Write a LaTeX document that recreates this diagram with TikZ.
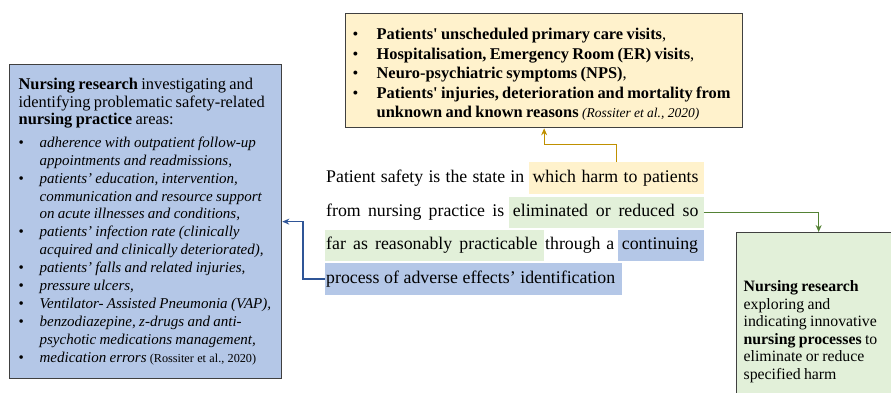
\documentclass[tikz,border=0pt]{standalone}
\usepackage{fontspec}
\setmainfont{Liberation Serif}
\newfontfamily\rawserif{Liberation Serif}
\usepackage{enumitem}
\usetikzlibrary{arrows.meta}

\definecolor{hlyellow}{HTML}{FFF2CC}
\definecolor{hlgreen}{HTML}{E2F0D9}
\definecolor{hlblue}{HTML}{B4C7E7}
\definecolor{argold}{HTML}{BF9000}
\definecolor{argreen}{HTML}{548235}
\definecolor{arblue}{HTML}{2F5597}
\definecolor{boxline}{HTML}{404040}

% one justified stretch of text: left pad, full width, right pad, words
\newcommand{\spreadline}[4]{\hbox to #2pt{\hskip#1pt\spaceskip=0.25em plus 1fill minus 0.08em\relax #4\hfil\hskip#3pt}}
\newcommand{\sq}{{\rawserif'}}
\setlist[itemize]{label={\normalfont\textbullet}, labelindent=0pt, align=left,
  itemsep=0pt, topsep=0pt, parsep=0pt, partopsep=0pt}

\begin{document}
\begin{tikzpicture}[x=1pt, y=-1pt,
  seg/.style={inner xsep=0pt, inner ysep=0pt, minimum height=31.5pt,
    text height=12.5pt, text depth=4pt, anchor=west,
    font=\fontsize{17.8}{21}\selectfont},
  box/.style={draw=boxline, line width=1.3pt, anchor=north west},
  arr/.style={line width=1.2pt, -{Stealth[length=7pt, width=6pt]}}]

\useasboundingbox (0,0) rectangle (891,393);
\clip (0,0) rectangle (891,393);

% Definition text, line by line
\node[seg] (s1) at (326,178) {\spreadline{0}{198}{0}{Patient safety is the state in}};
\node[seg, fill=hlyellow] (harm) at (528.7,178) {\spreadline{3.6}{174.6}{5}{which harm to patients}};
\node[seg] (s2) at (326,212.5) {\spreadline{0}{178}{0}{from nursing practice is}};
\node[seg, fill=hlgreen] (reduced) at (509,212.5) {\spreadline{3.7}{194.3}{5}{eliminated or reduced so}};
\node[seg, fill=hlgreen] (far) at (325,245.5) {\spreadline{1}{219}{6.7}{far as reasonably practicable}};
\node[seg] (s3) at (545,245.5) {\spreadline{0}{69}{0}{through a}};
\node[seg, fill=hlblue] (cont) at (618,245.5) {\spreadline{3.7}{85.3}{5}{continuing}};
\node[seg, fill=hlblue] (process) at (325,279) {\spreadline{1}{297}{7}{process of adverse effects’ identification}};

% Boxes
\node[box, fill=hlyellow, text width=383pt, inner xsep=7pt, minimum height=114pt] (effects) at (345,13) {%
  \fontsize{16.4}{19.5}\selectfont\bfseries\raggedright
  \begin{itemize}[leftmargin=24pt, labelwidth=10pt, labelsep=14pt]
  \item Patients\sq{} unscheduled primary care visits{\mdseries,}
  \item Hospitalisation, Emergency Room (ER) visits{\mdseries,}
  \item Neuro-psychiatric symptoms (NPS){\mdseries,}
  \item Patients\sq{} injuries, deterioration and mortality from\newline
    unknown and known reasons {\mdseries\itshape\fontsize{13.5}{19.5}\selectfont (Rossiter et al., 2020)}
  \end{itemize}};

\node[box, fill=hlblue, text width=254pt, inner xsep=9pt, minimum height=314pt] (practice) at (9,64) {%
  \fontsize{16.4}{17.5}\selectfont\raggedright
  \textbf{Nursing research} investigating and\newline
  identifying problematic safety-related\newline
  \textbf{nursing practice} areas:\par
  \vspace{4.5pt}
  \fontsize{15}{17.9}\selectfont\itshape
  \begin{itemize}[leftmargin=21pt, labelwidth=10pt, labelsep=11pt]
  \item adherence with outpatient follow-up\newline appointments and readmissions,
  \item patients’ education, intervention,\newline communication and resource support\newline on acute illnesses and conditions,
  \item patients’ infection rate (clinically\newline acquired and clinically deteriorated),
  \item patients’ falls and related injuries,
  \item pressure ulcers,
  \item Ventilator- Assisted Pneumonia (VAP),
  \item benzodiazepine, z-drugs and anti-\newline psychotic medications management,
  \item medication errors {\upshape\fontsize{12.2}{17.9}\selectfont (Rossiter et al., 2020)}
  \end{itemize}};

\node[box, fill=hlgreen, text width=150pt, inner xsep=7pt, minimum height=198pt] (research) at (736,232) {%
  \fontsize{15.8}{17.5}\selectfont\raggedright
  \textbf{Nursing research}\newline
  exploring and\newline
  indicating innovative\newline
  \textbf{nursing processes} to\newline
  eliminate or reduce\newline
  specified harm\par};

% Connectors
\draw[arr, argold] (harm.north) -- ++(0,-17.5) -| (effects.south);
\draw[arr, argreen] (reduced.east) -| (research.north);
\draw[arr, arblue] (process.west) -- ++(-22,0) |- (practice.east);

\end{tikzpicture}
\end{document}
